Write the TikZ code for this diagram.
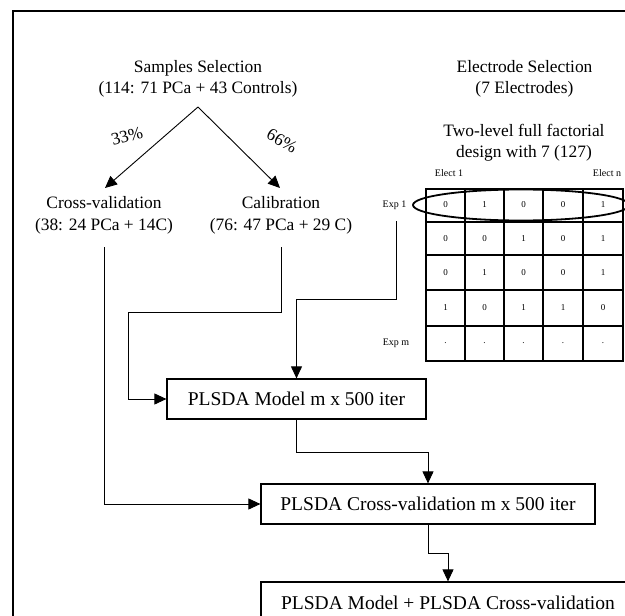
\documentclass[tikz,border=0pt]{standalone}
\usepackage{fontspec}
\setmainfont{Liberation Serif}
\usetikzlibrary{arrows.meta,calc}
\begin{document}
\begin{tikzpicture}[x=1pt,y=-1pt,
  lbl/.style={font=\fontsize{17.4}{21.5}\selectfont, align=center, inner sep=0pt},
  boxnode/.style={draw, line width=1.2pt, font=\fontsize{19.5}{23}\selectfont, inner sep=0pt},
  small/.style={font=\fontsize{10}{12}\selectfont, inner sep=0pt},
  cell/.style={font=\fontsize{9}{11}\selectfont, inner sep=0pt},
  conn/.style={line width=0.9pt},
  arr/.style={conn, -{Triangle[length=12pt,width=11pt]}},
  grid/.style={line width=1.8pt},
]
\useasboundingbox (0,0) rectangle (625,616);
\clip (0,0) rectangle (625,616);
\fill[white] (0,0) rectangle (625,616);
\draw[line width=1.6pt] (13,11) rectangle (680,680);

% left part
\node[lbl] (samples) at (198,79) {Samples Selection\\(114: 71 PCa + 43 Controls)};
\coordinate (apex) at (198,107);
\node[lbl] (crossval) at (104,215.5) {Cross-validation\\(38: 24 PCa + 14C)};
\node[lbl] (calib) at (281,215.5) {Calibration\\(76: 47 PCa + 29 C)};
\node[lbl, rotate=15] (p33) at (127,136) {33\%};
\node[lbl, rotate=-30] (p66) at (282,141) {66\%};

\coordinate (cvtip) at (105,188);
\coordinate (caltip) at (280,188);
\draw[arr] (apex) -- (cvtip);
\draw[arr] (apex) -- (caltip);

% right part
\node[lbl] (elec) at (524.5,79) {Electrode Selection\\(7 Electrodes)};
\node[lbl] (twolevel) at (524,142.5) {Two-level full factorial\\design with 7 (127)};
\node[small] (elect1) at (449,173) {Elect 1};
\node[small] (electn) at (607,173) {Elect n};
\node[small] (exp1) at (394.5,205) {Exp 1};
\node[small] (expm) at (396,343) {Exp m};

\draw[grid] (426,189) rectangle (623,361);
\foreach \xx in {465,504,543,583} \draw[grid] (\xx,189) -- (\xx,361);
\foreach \yy in {222,255,290,326} \draw[grid] (426,\yy) -- (623,\yy);
\foreach \r/\yy/\a/\b/\c/\d/\e in {1/205/0/1/0/0/1, 2/239/0/0/1/0/1, 3/273/0/1/0/0/1, 4/308/1/0/1/1/0, 5/343/./././././.}{
  \node[cell] (c\r-1) at (445.5,\yy) {\a};
  \node[cell] (c\r-2) at (484.5,\yy) {\b};
  \node[cell] (c\r-3) at (523.5,\yy) {\c};
  \node[cell] (c\r-4) at (563,\yy) {\d};
  \node[cell] (c\r-5) at (603,\yy) {\e};
}
\draw[line width=1.8pt] (521,205) ellipse [x radius=108, y radius=15.5];

% boxes
\node[boxnode, minimum width=259pt, minimum height=40pt] (model) at (296.5,399) {PLSDA Model m x 500 iter};
\node[boxnode, minimum width=334pt, minimum height=40pt] (cvbox) at (428,504) {PLSDA Cross-validation m x 500 iter};
\node[boxnode, minimum width=374pt, minimum height=42pt] (final) at (448,603) {PLSDA Model + PLSDA Cross-validation};

% connectors
\coordinate (cvstart) at (104,247);
\coordinate (calstart) at (281,247);
\coordinate (calbend) at (128,312);
\coordinate (expstart) at (396,221);
\coordinate (expbend) at (396,299);
\draw[arr] (cvstart) |- (cvbox.west);
\draw[arr] (calstart) |- (calbend) |- (model.west);
\draw[arr] (expstart) -- (expbend) -| (model.north);
\draw[arr] (model.south) -- ++(0,33) -| (cvbox.north);
\draw[arr] (cvbox.south) -- ++(0,29) -| (final.north);
\end{tikzpicture}
\end{document}
